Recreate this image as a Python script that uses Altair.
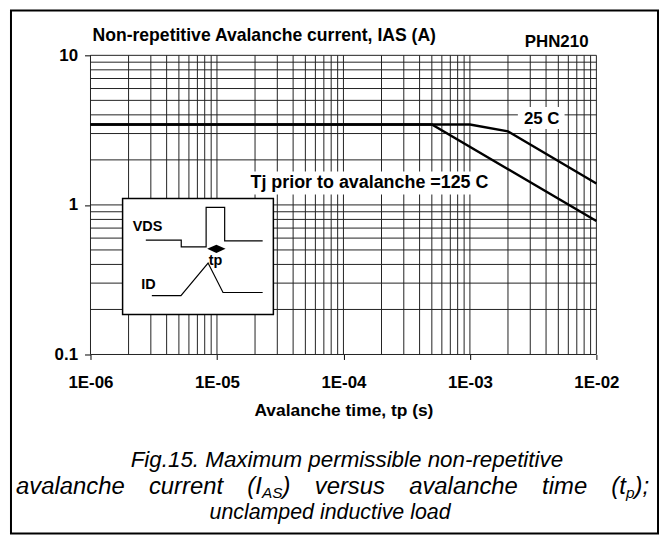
import altair as alt
import pandas as pd

FONT = "Liberation Sans"

# ---- data ----
t_25 = [1e-6, 1e-3, 2e-3, 1e-2]
i_25 = [3.45, 3.45, 3.1, 1.39]
t_125 = [1e-6, 5e-4, 1e-2]
i_125 = [3.45, 3.45, 0.78]

x_decades = [1e-6, 1e-5, 1e-4, 1e-3, 1e-2]
y_decades = [0.1, 1, 10]
x_grid = [m * d for d in x_decades[:-1] for m in range(1, 10)] + [x_decades[-1]]
y_grid = [m * d for d in y_decades[:-1] for m in range(1, 10)] + [y_decades[-1]]

# inset schematic (normalised 0..100 units inside the inset box)
vds_u = [15.4, 38.9, 38.9, 55.4, 55.4, 67.7, 67.7, 92.9]
vds_v = [64.0, 64.0, 58.3, 58.3, 92.3, 92.3, 63.4, 63.4]
id_u = [19.4, 38.7, 56.7, 66.6, 92.9]
id_v = [16.3, 16.3, 44.3, 18.9, 18.9]

W, H = 509, 301
xs = alt.Scale(type="log", domain=[1e-6, 1e-2], nice=False)
ys = alt.Scale(type="log", domain=[0.1, 10], nice=False)

# inset box (plot-relative pixels)
IX0, IX1, IY0, IY1 = 32.3, 184, 144, 260.7
us = alt.Scale(domain=[0, 100], range=[IX0, IX1], nice=False, zero=False)
vs = alt.Scale(domain=[0, 100], range=[IY1, IY0], nice=False, zero=False)

one = alt.Data(values=[{}])


def text(t, x, y, size=17, weight="bold", align="center", baseline="middle",
         style="normal", font=FONT):
    return alt.Chart(alt.Data(values=[{"t": t}])).mark_text(
        font=font, fontSize=size, fontWeight=weight, fontStyle=style,
        align=align, baseline=baseline, color="black"
    ).encode(x=alt.value(x), y=alt.value(y), text="t:N")


def cap(t, x, y, size=24):
    return text(t, x, y, size=size, weight="normal", align="left",
                baseline="alphabetic", style="italic")


def box(x0, x1, y0, y1, stroke=None, sw=0, fill="white"):
    kw = dict(fill=fill)
    if stroke:
        kw.update(stroke=stroke, strokeWidth=sw)
    return alt.Chart(one).mark_rect(**kw).encode(
        x=alt.value(x0), x2=alt.value(x1), y=alt.value(y0), y2=alt.value(y1)
    )


vgrid = alt.Chart(pd.DataFrame({"g": x_grid})).mark_rule(color="#222", strokeWidth=1).encode(
    x=alt.X("g:Q", scale=xs, axis=None)
)
hgrid = alt.Chart(pd.DataFrame({"g": y_grid})).mark_rule(color="#222", strokeWidth=1).encode(
    y=alt.Y("g:Q", scale=ys, axis=None)
)

curves_df = pd.concat([
    pd.DataFrame({"t": t_25, "i": i_25, "s": "25 C"}),
    pd.DataFrame({"t": t_125, "i": i_125, "s": "125 C"}),
])
curves = alt.Chart(curves_df).mark_line(color="black", strokeWidth=2.4).encode(
    x=alt.X("t:Q", scale=xs, axis=alt.Axis(
        values=x_decades, labelExpr="'1E-0' + round(-log(datum.value) / LN10)",
        grid=False, domain=False, tickSize=5, tickColor="black", labelFlush=False,
        labelFont=FONT, labelFontSize=17, labelFontWeight="bold", labelColor="black",
        labelPadding=15, title="Avalanche time, tp (s)", titleFont=FONT,
        titleFontSize=17.5, titleFontWeight="bold", titleColor="black", titlePadding=11,
    )),
    y=alt.Y("i:Q", scale=ys, axis=alt.Axis(
        values=y_decades, format="~g", grid=False, domain=False, tickSize=6,
        tickColor="black", labelFont=FONT, labelFontSize=17, labelFontWeight="bold",
        labelColor="black", labelPadding=7, title=None,
    )),
    detail="s:N",
)

# inset
inset_box = box(IX0, IX1, IY0, IY1, stroke="black", sw=1.5)
vds_line = alt.Chart(pd.DataFrame({"u": vds_u, "v": vds_v, "k": range(len(vds_u))})).mark_line(
    color="black", strokeWidth=1.2).encode(
    x=alt.X("u:Q", scale=us, axis=None), y=alt.Y("v:Q", scale=vs, axis=None), order="k:Q")
id_line = alt.Chart(pd.DataFrame({"u": id_u, "v": id_v, "k": range(len(id_u))})).mark_line(
    color="black", strokeWidth=1.2).encode(
    x=alt.X("u:Q", scale=us, axis=None), y=alt.Y("v:Q", scale=vs, axis=None), order="k:Q")
diamond = alt.Chart(pd.DataFrame({"u": [62.2], "v": [56.6]})).mark_point(
    shape="M-1,0L0,-0.45L1,0L0,0.45Z", size=340, filled=True, color="black", opacity=1).encode(
    x=alt.X("u:Q", scale=us, axis=None), y=alt.Y("v:Q", scale=vs, axis=None))

# caption line 2 pieces (page x minus 91 -> plot-relative)
L2 = 441
caption2 = [
    cap("avalanche", 16 - 91, L2),
    cap("current", 149.8 - 91, L2),
    cap("(I", 248.8 - 91, L2),
    cap("AS", 263.5 - 91, L2 + 4, size=15.5),
    cap(")", 284.2 - 91, L2),
    cap("versus", 316.6 - 91, L2),
    cap("avalanche", 411.6 - 91, L2),
    cap("time", 545.4 - 91, L2),
    cap("(t", 615 - 91, L2),
    cap("p", 629.7 - 91, L2 + 4, size=15.5),
    cap(");", 638.3 - 91, L2),
]

layers = [
    vgrid, hgrid,
    box(430, 477, 52, 74),
    box(158, 410, 117, 140),
    curves,
    text("25 C", 454, 64),
    text("Tj prior to avalanche =125 C", 161, 128.5, size=18, align="left"),
    text("Non-repetitive Avalanche current, IAS (A)", 2, -14, size=17.7, align="left",
         baseline="alphabetic"),
    text("PHN210", 469, -8, baseline="alphabetic"),
    inset_box, vds_line, id_line, diamond,
    text("VDS", 57.3, 172.4, size=14.5),
    text("tp", 125.7, 206.7, size=14.5),
    text("ID", 58.3, 230.7, size=14.5),
    # caption
    text("Fig.15.  Maximum permissible non-repetitive", 258, 414, size=22.5, weight="normal",
         baseline="alphabetic", style="italic"),
    *caption2,
    text("unclamped inductive load", 241, 467, size=21.5, weight="normal",
         baseline="alphabetic", style="italic"),
    # outer frame
    box(-80, 571, -45, 481, stroke="black", sw=2, fill="transparent"),
]

chart = alt.layer(*layers).resolve_scale(x="independent", y="independent").properties(
    width=W, height=H,
    autosize=alt.AutoSizeParams(type="none"),
    padding={"left": 83, "top": 46, "right": 63, "bottom": 181},
    background="white",
).configure_view(stroke=None)

chart.save("out.html", embed_options={"renderer": "svg", "actions": False})
